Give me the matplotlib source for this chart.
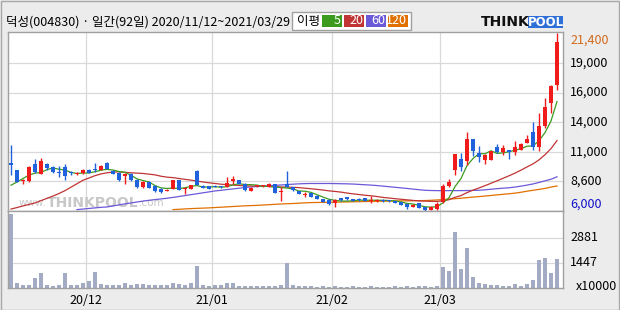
import matplotlib
matplotlib.use("Agg")
import matplotlib.pyplot as plt
import matplotlib.transforms as mtransforms
from matplotlib.patches import Rectangle
import numpy as np

plt.rcParams['font.family'] = ['Noto Sans CJK KR', 'DejaVu Sans']

title = "덕성(004830) · 일간(92일) 2020/11/12~2021/03/29"

# daily candles, 2020/11/12 .. 2021/03/29 (92 trading days)
opens = [10160, 9520, 8600, 8570, 10100, 9200, 10020, 9810, 9380, 9810,
         9380, 9200, 9290, 9520, 9640, 9520, 10190, 9440, 9290, 9000,
         9200, 8710, 8070, 8510, 8160, 7930, 7760, 7930, 8650, 7870,
         7870, 9440, 8160, 8130, 8180, 8100, 8070, 8600, 8650, 8360,
         7730, 8130, 8130, 8070, 8310, 7640, 8310, 8070, 7730, 7380,
         7550, 7320, 7030, 6950, 6680, 7120, 7200, 7000, 7060, 7090,
         6830, 6830, 6970, 6910, 6860, 6770, 6620, 6330, 6680, 6330,
         6070, 6160, 6800, 8160, 9550, 10480, 10340, 12220, 11000, 10420,
         10420, 11530, 11090, 11240, 11090, 11290, 11870, 12830, 11580, 13380,
         15350, 16950]
highs = [11700, 9560, 8800, 9870, 10540, 10600, 10190, 9850, 9870, 10100,
         9480, 9350, 9640, 9600, 10160, 9950, 10250, 9500, 9350, 9300,
         9250, 8750, 8560, 8560, 8200, 7990, 7900, 8700, 8700, 8050,
         8250, 9580, 8200, 8150, 8200, 8150, 8940, 9000, 8700, 8400,
         8030, 8260, 8260, 8400, 8350, 8070, 9470, 8100, 7760, 7640,
         7580, 7350, 7060, 6980, 7000, 7150, 7230, 7030, 7090, 7120,
         7260, 7000, 7000, 6940, 6890, 6800, 6650, 6560, 6710, 6360,
         6380, 6800, 8340, 8770, 10950, 11000, 12830, 12250, 11640, 10900,
         11180, 11790, 11730, 11270, 12020, 11850, 12540, 13700, 14480, 15790,
         16900, 21400]
lows = [9090, 8480, 8310, 8540, 9320, 9180, 9580, 9300, 8940, 8710,
        9150, 9150, 9230, 9250, 9380, 9500, 9600, 9200, 8600, 8360,
        8600, 8000, 7990, 7950, 7650, 7580, 7700, 7900, 7800, 7490,
        7850, 8200, 7950, 7870, 8050, 8000, 8050, 8360, 8330, 7750,
        7690, 8100, 8100, 8040, 7520, 6860, 8040, 7750, 7460, 7200,
        7170, 7000, 6740, 6520, 6330, 6880, 6970, 6830, 6880, 6830,
        6680, 6800, 6800, 6800, 6650, 6510, 6160, 6310, 6250, 6000,
        6050, 6070, 6700, 8100, 9120, 9470, 9990, 10770, 10280, 10050,
        10400, 11060, 10860, 10510, 10860, 11260, 11850, 11290, 11210, 13200,
        14480, 16450]
closes = [9990, 8510, 8660, 9810, 9380, 10300, 9730, 9380, 9260, 9030,
          9260, 9290, 9520, 9320, 9580, 9900, 9670, 9230, 8650, 9230,
          8650, 8070, 8510, 8020, 7700, 7640, 7840, 8650, 7840, 8020,
          8220, 8220, 7990, 7900, 8100, 8040, 8420, 8800, 8360, 7780,
          7990, 8220, 8220, 8360, 7550, 7700, 8070, 7780, 7490, 7440,
          7200, 7030, 6770, 6550, 6970, 6910, 7000, 6860, 6910, 6860,
          6970, 6970, 6830, 6830, 6680, 6540, 6330, 6540, 6280, 6040,
          6360, 6600, 8160, 8480, 10920, 9840, 12220, 11210, 10630, 10860,
          11150, 11090, 11440, 11090, 11530, 11790, 12220, 11530, 13380, 15000,
          16860, 20660]
# volume, x10000 shares
volumes = [4244, 268, 151, 193, 598, 887, 193, 135, 193, 887,
           193, 151, 307, 423, 944, 250, 193, 151, 193, 307,
           193, 212, 250, 151, 151, 151, 151, 307, 250, 151,
           307, 1291, 193, 135, 193, 151, 307, 307, 135, 135,
           135, 135, 96, 135, 135, 193, 1407, 193, 135, 96,
           90, 85, 95, 80, 100, 85, 80, 90, 85, 80,
           95, 85, 80, 85, 90, 80, 95, 85, 90, 100,
           85, 110, 1234, 1002, 3202, 1118, 2276, 655, 307, 249,
           191, 191, 134, 134, 249, 134, 249, 481, 1581, 1697,
           848, 1639]

ma5 = [8220, 8500, 8800, 9100, 9270, 9330, 9575, 9720, 9610, 9540,
       9330, 9245, 9275, 9285, 9395, 9525, 9600, 9540, 9410, 9340,
       9090, 8770, 8625, 8500, 8190, 7990, 7940, 7970, 7935, 8000,
       8115, 8190, 8055, 8070, 8085, 8050, 8090, 8250, 8345, 8280,
       8270, 8230, 8115, 8115, 8070, 8010, 7980, 7895, 7720, 7700,
       7600, 7390, 7190, 7000, 6905, 6850, 6840, 6860, 6930, 6910,
       6920, 6915, 6910, 6890, 6855, 6770, 6640, 6585, 6475, 6345,
       6310, 6360, 6690, 7130, 8100, 8800, 9925, 10535, 10960, 10950,
       11210, 10985, 11030, 11125, 11260, 11385, 11610, 11630, 12090, 12785,
       13800, 15490]
ma20 = [6150, 6280, 6420, 6550, 6680, 6880, 7080, 7280, 7500, 7750,
        8050, 8350, 8650, 8850, 9050, 9200, 9300, 9370, 9380, 9340,
        9300, 9270, 9240, 9180, 9120, 9000, 8920, 8880, 8800, 8730,
        8660, 8580, 8500, 8430, 8370, 8310, 8270, 8230, 8200, 8170,
        8150, 8140, 8130, 8110, 8090, 8070, 8060, 8040, 8010, 7960,
        7910, 7860, 7800, 7730, 7680, 7620, 7540, 7470, 7410, 7350,
        7300, 7240, 7160, 7110, 7050, 7000, 6950, 6900, 6860, 6840,
        6820, 6810, 6870, 6960, 7170, 7320, 7580, 7790, 7980, 8180,
        8390, 8600, 8820, 9040, 9270, 9530, 9810, 10070, 10420, 10870,
        11400, 12100]
ma60 = [None] * 11 + [
        6100, 6150, 6200, 6250, 6300, 6330, 6420, 6510, 6600,
        6680, 6760, 6840, 6910, 6970, 7030, 7090, 7160, 7240, 7320,
        7400, 7480, 7560, 7640, 7720, 7780, 7840, 7900, 7960, 8020,
        8070, 8110, 8150, 8180, 8210, 8240, 8280, 8310, 8340, 8360,
        8370, 8370, 8370, 8370, 8360, 8350, 8340, 8320, 8290, 8260,
        8230, 8190, 8140, 8090, 8040, 7990, 7940, 7880, 7830, 7780,
        7760, 7750, 7750, 7750, 7750, 7750, 7760, 7770, 7780, 7820,
        7870, 7920, 7960, 8000, 8060, 8140, 8230, 8330, 8460, 8600,
        8740, 8950]
ma120 = [None] * 27 + [
         6100, 6130, 6160,
         6190, 6210, 6230, 6250, 6280, 6310, 6340, 6370, 6400, 6430,
         6450, 6470, 6500, 6530, 6560, 6590, 6610, 6630, 6660, 6690,
         6710, 6720, 6730, 6740, 6750, 6760, 6770, 6780, 6790, 6800,
         6810, 6820, 6830, 6840, 6850, 6860, 6860, 6870, 6880, 6890,
         6910, 6940, 6970, 7010, 7050, 7090, 7140, 7190, 7230, 7280,
         7330, 7380, 7430, 7480, 7530, 7610, 7700, 7780, 7860, 7940,
         8060, 8150]

month_starts = [13, 34, 54, 72]
month_labels = ["20/12", "21/01", "21/02", "21/03"]
price_ticks = [6000, 8567, 11133, 13700, 16267, 18833, 21400]
price_labels = ["6,000", "8,600", "11,000", "14,000", "16,000", "19,000", "21,400"]
vol_ticks = [1447, 2881]
ma_names = ["5", "20", "60", "120"]

RED = "#f01c1c"
BLUE = "#1f62dc"
MA_COLORS = ["#3c9a1e", "#c03434", "#6a5ad8", "#e07000"]
GRID = "#d9d9d9"
FRAME = "#a0a0a0"
BG = "#ececec"
WM = "#c8c8c8"

o = np.array(opens, float)
h = np.array(highs, float)
l = np.array(lows, float)
c = np.array(closes, float)
x = np.arange(len(c))

fig = plt.figure(figsize=(6.2, 3.1), dpi=100, facecolor=BG)
W, H = 620.0, 310.0

def fbox(x0, y0, x1, y1):
    # pixel box (top-left origin) -> figure fraction rect
    return [x0 / W, 1 - y1 / H, (x1 - x0) / W, (y1 - y0) / H]

ax = fig.add_axes(fbox(8, 32, 563, 211))
axv = fig.add_axes(fbox(8, 211, 563, 288), sharex=ax)

for a in (ax, axv):
    a.set_facecolor("white")
    for s in a.spines.values():
        s.set_color(FRAME)
        s.set_linewidth(1.0)
    a.tick_params(length=0, labelbottom=False, labelleft=False, labelright=False)
    for m in month_starts:
        a.axvline(m - 0.5, color=GRID, lw=0.9, zorder=0)

ax.set_xlim(-0.5, 92)
ax.set_ylim(5980, 21530)
axv.set_ylim(0, 4420)
ax.set_xticks([])
ax.set_yticks([])
axv.set_yticks([])

for t in price_ticks[1:-1]:
    ax.axhline(t, color=GRID, lw=0.9, zorder=0)
for t in vol_ticks:
    axv.axhline(t, color=GRID, lw=0.9, zorder=0)

# watermark
wm_y = 0.045
ax.text(0.070, wm_y, "www.", transform=ax.transAxes, fontsize=7.5, color=WM,
        ha="right", va="center", family="DejaVu Sans", zorder=1)
ax.text(0.070, wm_y, "THINKPOOL", transform=ax.transAxes, fontsize=10, color=WM,
        fontweight="bold", ha="left", va="center", family="DejaVu Sans", zorder=1)
ax.text(0.236, wm_y, ".com", transform=ax.transAxes, fontsize=7.5, color=WM,
        ha="left", va="center", family="DejaVu Sans", zorder=1)

# moving averages
for vals, col in zip([ma120, ma60, ma20, ma5], MA_COLORS[::-1]):
    arr = np.array([np.nan if v is None else v for v in vals], float)
    ax.plot(x, arr, color=col, lw=0.9, zorder=2)

# candles
up = c >= o
cols = np.where(up, RED, BLUE)
ax.vlines(x, l, h, colors=cols, lw=1.0, zorder=3)
bottoms = np.minimum(o, c)
heights = np.maximum(np.abs(c - o), 80)
ax.bar(x, heights, 0.78, bottom=bottoms, color=cols, lw=0, zorder=4)

# volume
axv.bar(x, volumes, 0.72, color="#a2aac4", lw=0, zorder=2)

# right labels
tr = mtransforms.blended_transform_factory(ax.transAxes, ax.transData)
for i, (t, lab) in enumerate(zip(price_ticks, price_labels)):
    col = "black"
    va = "center"
    if i == 0:
        col, va = "#1010c8", "bottom"
    elif i == len(price_ticks) - 1:
        col, va = "#d2691e", "top"
    ax.text(1.013, t, lab, transform=tr, fontsize=9, color=col, ha="left", va=va)

trv = mtransforms.blended_transform_factory(axv.transAxes, axv.transData)
for t in vol_ticks:
    axv.text(1.013, t, str(t), transform=trv, fontsize=9, color="black", ha="left", va="center")
fig.text(576 / W, 1 - 286 / H, "x10000", fontsize=9, ha="left", va="center")

# month labels
trx = mtransforms.blended_transform_factory(axv.transData, axv.transAxes)
for m, lab in zip(month_starts, month_labels):
    axv.text(m - 0.5, -0.16, lab, transform=trx, fontsize=9, ha="center", va="center")

# title
fig.text(6 / W, 1 - 22.5 / H, title, fontsize=9, ha="left", va="center")

# MA legend box
fig.patches.append(Rectangle((292 / W, 1 - 30 / H), 119 / W, 18 / H, transform=fig.transFigure,
                             facecolor="white", edgecolor=FRAME, lw=1.0))
fig.text(297 / W, 1 - 21 / H, "이평", fontsize=9, ha="left", va="center")
boxes = [(322, 342), (344, 364), (366, 386), (388, 408)]
for (bx0, bx1), name, col in zip(boxes, ma_names, MA_COLORS):
    fig.patches.append(Rectangle((bx0 / W, 1 - 27 / H), (bx1 - bx0) / W, 12 / H,
                                 transform=fig.transFigure, facecolor=col, lw=0))
    fig.text((bx1 - 1) / W, 1 - 21 / H, name, fontsize=9, color="white", ha="right", va="center")

# logo
fig.patches.append(Rectangle((528 / W, 1 - 28 / H), 35 / W, 12 / H, transform=fig.transFigure,
                             facecolor="#2f6fd8", lw=0))
fig.text(481 / W, 1 - 22 / H, "THINK", fontsize=10, fontweight="bold", family="DejaVu Sans",
         ha="left", va="center", color="#111111")
fig.text(545.5 / W, 1 - 22 / H, "POOL", fontsize=8.5, fontweight="bold", family="DejaVu Sans",
         ha="center", va="center", color="white")

# outer border
fig.patches.append(Rectangle((0.5 / W, 0.5 / H), 618.5 / W, 308.5 / H, transform=fig.transFigure,
                             fill=False, edgecolor="#a8a8a8", lw=1.0))

fig.savefig("out.png", dpi=100, facecolor=BG)
